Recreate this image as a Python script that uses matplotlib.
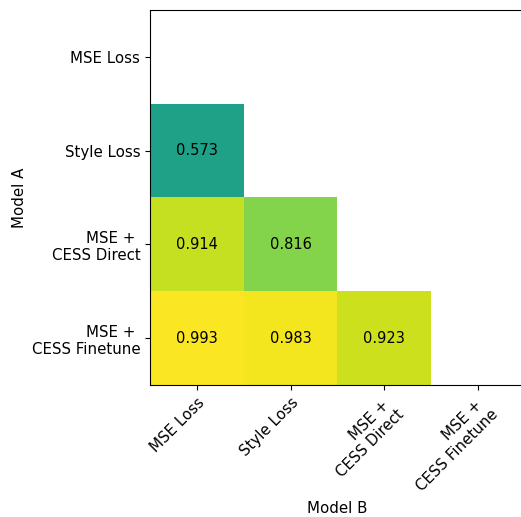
import numpy as np
import matplotlib
matplotlib.use("Agg")
import matplotlib.pyplot as plt

models = ["MSE Loss", "Style Loss", "MSE + \nCESS Direct", "MSE + \nCESS Finetune"]

# pairwise scores, row = model A, column = model B (lower triangle only)
row_style = [0.573]
row_direct = [0.914, 0.816]
row_finetune = [0.993, 0.983, 0.923]

n = len(models)
scores = np.full((n, n), np.nan)
for i, row in enumerate([[], row_style, row_direct, row_finetune]):
    scores[i, :len(row)] = row
masked = np.ma.masked_invalid(scores)

fig = plt.figure(figsize=(5.21, 5.17), dpi=100)
ax = fig.add_axes([150 / 521, 132 / 517, 375 / 521, 375 / 517])
ax.imshow(masked, cmap="viridis", vmin=0, vmax=1, aspect="auto")

for i in range(n):
    for j in range(n):
        if not np.isnan(scores[i, j]):
            ax.text(j, i, f"{scores[i, j]:.3f}", ha="center", va="center",
                    color="black", fontsize=10.5)

ax.set_xticks(range(n))
ax.set_yticks(range(n))
ax.set_xticklabels(models, rotation=45, ha="right", rotation_mode="anchor",
                   fontsize=10.8)
ax.set_yticklabels(models, fontsize=10.8)
ax.set_xlabel("Model B", fontsize=10.8, labelpad=5)
ax.set_ylabel("Model A", fontsize=10.8, labelpad=3)

fig.savefig("out.png", dpi=100)
